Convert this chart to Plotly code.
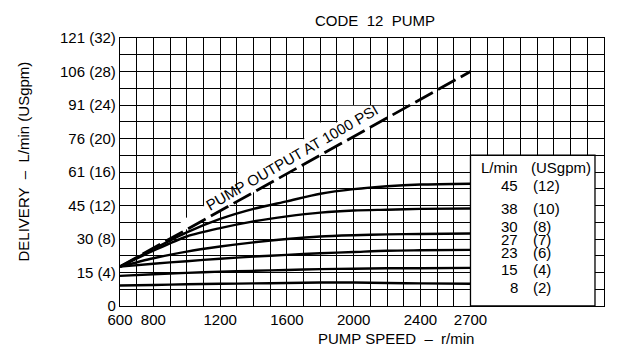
import plotly.graph_objects as go

# pump speed (r/min) at which the delivery curves were read
speed = [600, 800, 1000, 1200, 1400, 1600, 1800, 2000, 2200, 2400, 2700]

# delivery in USgpm, one curve per flow control setting
flow_45 = [4.7, 6.8, 8.8, 10.4, 11.6, 12.5, 13.4, 13.95, 14.3, 14.5, 14.6]
flow_38 = [4.7, 6.6, 8.3, 9.3, 10.1, 10.7, 11.15, 11.4, 11.5, 11.6, 11.65]
flow_30 = [4.7, 5.7, 6.5, 7.1, 7.6, 8.0, 8.3, 8.45, 8.55, 8.6, 8.65]
flow_23 = [4.7, 5.05, 5.35, 5.65, 5.9, 6.1, 6.3, 6.45, 6.6, 6.65, 6.7]
flow_15 = [3.6, 3.8, 3.95, 4.1, 4.2, 4.3, 4.4, 4.45, 4.5, 4.5, 4.55]
flow_8 = [2.45, 2.5, 2.6, 2.65, 2.7, 2.75, 2.8, 2.8, 2.75, 2.7, 2.65]

# theoretical pump output at 1000 psi
output_speed = [600, 2700]
output_gpm = [4.7, 28]

# axis labels
x_ticks = [600, 800, 1200, 1600, 2000, 2400, 2700]
y_ticks = [0, 4, 8, 12, 16, 20, 24, 28, 32]
y_ticktext = ["0", "15 (4)", "30 (8)", "45 (12)", "61 (16)", "76 (20)",
              "91 (24)", "106 (28)", "121 (32)"]

# legend table
legend_lpm = ["45", "38", "30", "27", "23", "15", "8"]
legend_gpm = ["(12)", "(10)", "(8)", "(7)", "(6)", "(4)", "(2)"]

FONT = "Liberation Sans, Arial, Helvetica, sans-serif"

fig = go.Figure()

for ys in [flow_45, flow_38, flow_30, flow_23, flow_15, flow_8]:
    fig.add_trace(go.Scatter(
        x=speed, y=ys, mode="lines",
        line=dict(color="black", width=2.4, shape="spline", smoothing=0.8),
        hoverinfo="skip", showlegend=False,
    ))

fig.add_trace(go.Scatter(
    x=output_speed, y=output_gpm, mode="lines",
    line=dict(color="black", width=2.8, dash="20px,6px"),
    hoverinfo="skip", showlegend=False,
))

# white area behind the rotated label (grid cells removed)
stair = [(940, 8.5), (960, 9.9), (1080, 11.9), (1104, 11.9), (1104, 13.9),
         (1304, 13.9), (1304, 17.9), (1504, 17.9), (1504, 19.9), (1704, 19.9),
         (1704, 21.9), (1904, 21.9), (1904, 23.9), (2194, 23.9), (2194, 22.3)]
path = "M " + " L ".join(f"{a},{b}" for a, b in stair) + " Z"
fig.add_shape(type="path", path=path, xref="x", yref="y",
              fillcolor="white", line=dict(width=0), layer="between")

# legend box
fig.add_shape(type="rect", x0=2700, x1=3446, y0=0, y1=18, xref="x", yref="y",
              fillcolor="white", line=dict(color="black", width=1.3),
              layer="between")

legend_y = [14.4, 11.7, 9.5, 8.0, 6.4, 4.4, 2.2]
fig.add_annotation(x=2995, y=16.5, text="L/min", xanchor="right",
                   showarrow=False, font=dict(size=15))
fig.add_annotation(x=3052, y=16.5, text="(USgpm)", xanchor="left",
                   showarrow=False, font=dict(size=15))
for a, b, yy in zip(legend_lpm, legend_gpm, legend_y):
    fig.add_annotation(x=2995, y=yy, text=a, xanchor="right",
                       showarrow=False, font=dict(size=15))
    fig.add_annotation(x=3062, y=yy, text=b, xanchor="left",
                       showarrow=False, font=dict(size=15))

fig.add_annotation(x=1628, y=17.75, text="PUMP OUTPUT AT 1000 PSI",
                   textangle=-30, showarrow=False, font=dict(size=15))

fig.add_annotation(x=0.527, y=1.067, xref="paper", yref="paper",
                   xanchor="center", yanchor="middle",
                   text="CODE\u00a0 12\u00a0 PUMP", showarrow=False,
                   font=dict(size=15))
fig.add_annotation(x=0.57, y=-0.121, xref="paper", yref="paper",
                   xanchor="center", yanchor="middle",
                   text="PUMP SPEED\u00a0 –\u00a0 r/min", showarrow=False,
                   font=dict(size=15))
fig.add_annotation(x=-0.2, y=0.54, xref="paper", yref="paper",
                   xanchor="center", yanchor="middle",
                   text="DELIVERY\u00a0 –\u00a0 L/min (USgpm)", textangle=-90,
                   showarrow=False, font=dict(size=15))

grid = dict(showgrid=True, gridcolor="black", gridwidth=1.2)
fig.update_xaxes(
    range=[600, 3500], tickmode="array", tickvals=x_ticks,
    ticktext=[str(v) for v in x_ticks], ticks="", zeroline=False,
    showline=True, mirror=True, linecolor="black", linewidth=1.3,
    minor=dict(tick0=600, dtick=100, **grid), **grid,
)
fig.update_yaxes(
    range=[0, 32], tickmode="array", tickvals=y_ticks, ticktext=y_ticktext,
    ticks="", zeroline=False,
    showline=True, mirror=True, linecolor="black", linewidth=1.3,
    minor=dict(tick0=0, dtick=2, **grid), **grid,
)

# the page body adds an 8px offset, so the figure is drawn 8px smaller
fig.update_layout(
    width=612, height=339,
    margin=dict(l=112, r=16, t=30, b=41),
    paper_bgcolor="white", plot_bgcolor="white",
    font=dict(family=FONT, size=15, color="black"),
    showlegend=False,
)

fig.write_html("out.html")
